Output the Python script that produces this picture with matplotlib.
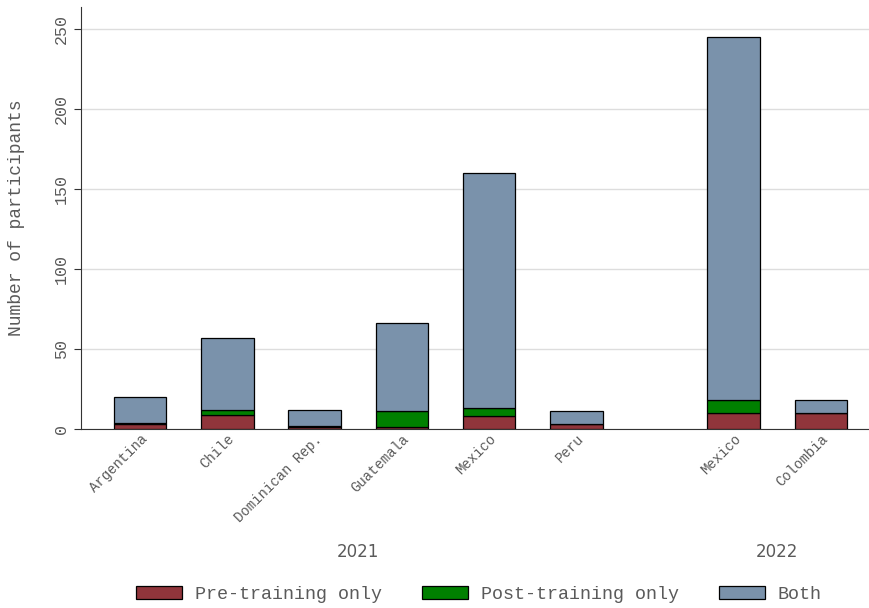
import numpy as np
import matplotlib
matplotlib.use("Agg")
import matplotlib.pyplot as plt
from matplotlib.patches import Patch

plt.rcParams["font.family"] = ["Liberation Mono", "DejaVu Sans Mono"]

countries = ["Argentina", "Chile", "Dominican Rep.", "Guatemala", "Mexico", "Peru",
             "Mexico", "Colombia"]
years = ["2021", "2021", "2021", "2021", "2021", "2021", "2022", "2022"]
pre_only = np.array([3, 9, 1, 1, 8, 3, 10, 10])
post_only = np.array([1, 3, 1, 10, 5, 0, 8, 0])
both = np.array([16, 45, 10, 55, 147, 8, 227, 8])

# positions: gap between year groups
pos = np.array([0, 1, 2, 3, 4, 5, 6.8, 7.8])

c_pre = "#90353B"
c_post = "#008000"
c_both = "#7A92AB"
txt = "#5a5a5a"

fig = plt.figure(figsize=(8.69, 6.08), dpi=100)
ax = fig.add_axes([0.0932, 0.2944, 0.9068, 0.6941])

w = 0.6
ax.bar(pos, pre_only, w, color=c_pre, edgecolor="black", linewidth=0.9, zorder=3)
ax.bar(pos, post_only, w, bottom=pre_only, color=c_post, edgecolor="black",
       linewidth=0.9, zorder=3)
ax.bar(pos, both, w, bottom=pre_only + post_only, color=c_both, edgecolor="black",
       linewidth=0.9, zorder=3)

ax.set_xlim(-0.676, 8.35)
ax.set_ylim(0, 263.75)
ax.set_yticks([0, 50, 100, 150, 200, 250])
ax.yaxis.grid(True, color="#DDDDDD", linewidth=1, zorder=0)
ax.set_axisbelow(True)
for s in ["top", "right"]:
    ax.spines[s].set_visible(False)
ax.spines["left"].set_color("#333333")
ax.spines["bottom"].set_color("#333333")

ax.tick_params(axis="y", labelrotation=90, labelsize=12, colors=txt, length=5,
               color="#333333")
for lab in ax.get_yticklabels():
    lab.set_va("center")
ax.set_ylabel("Number of participants", fontsize=13, color=txt, labelpad=21)

ax.set_xticks(pos)
ax.set_xticklabels(countries, rotation=45, ha="right", rotation_mode="anchor",
                   fontsize=10, color=txt)
ax.tick_params(axis="x", length=0, pad=2)

for yr in ["2021", "2022"]:
    m = pos[np.array(years) == yr].mean()
    ax.text(m, -0.292, yr, transform=ax.get_xaxis_transform(), ha="center",
            va="center", fontsize=12, color=txt, family="DejaVu Sans")

handles = [Patch(facecolor=c_pre, edgecolor="black", linewidth=0.9),
           Patch(facecolor=c_post, edgecolor="black", linewidth=0.9),
           Patch(facecolor=c_both, edgecolor="black", linewidth=0.9)]
leg = fig.legend(handles, ["Pre-training only", "Post-training only", "Both"],
                 loc="center", bbox_to_anchor=(0.551, 0.022), ncol=3, frameon=False,
                 fontsize=13.2, handlelength=2.5, handleheight=0.75,
                 handletextpad=0.7, columnspacing=2.2)
for t in leg.get_texts():
    t.set_color(txt)

fig.savefig("out.png", dpi=100)
